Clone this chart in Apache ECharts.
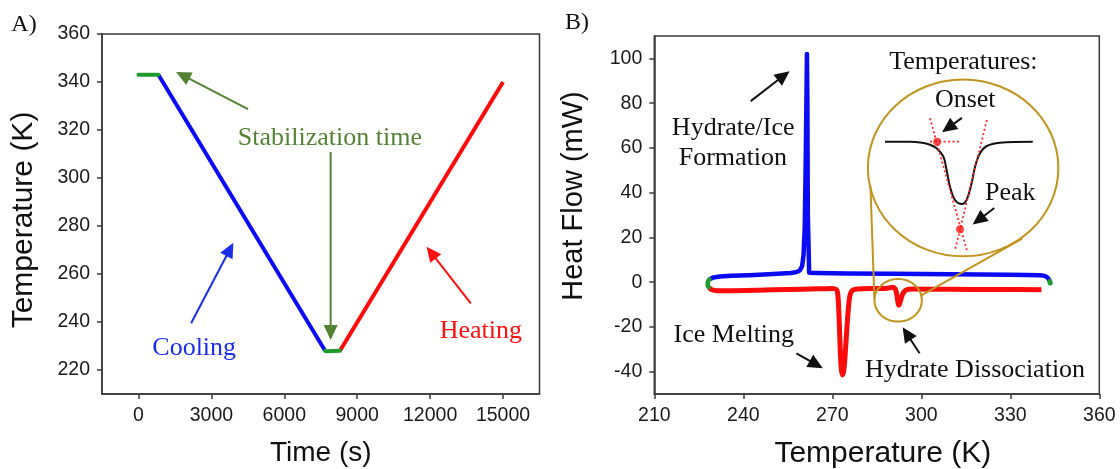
<!DOCTYPE html>
<html>
<head>
<meta charset="utf-8">
<script src="https://cdn.jsdelivr.net/npm/echarts@6/dist/echarts.min.js"></script>
<style>
  html, body { margin: 0; padding: 0; background: #ffffff; }
  #chart { width: 1120px; height: 469px; }
</style>
</head>
<body>
<div id="chart"></div>
<script>
// ---------- Panel A: programmed temperature profile ----------
const stabTopTime = [0, 820];
const stabTopTemp = [343, 343];
const coolTime = [820, 7680];
const coolTemp = [343, 228];
const stabLowTime = [7680, 7760, 8290];
const stabLowTemp = [228, 227.8, 228];
const heatTime = [8290, 15000];
const heatTemp = [228, 340];
const timeTicks = [0, 3000, 6000, 9000, 12000, 15000];
const tempTicksA = [220, 240, 260, 280, 300, 320, 340, 360];

// ---------- Panel B: DSC heat flow vs temperature ----------
const coolCurveT = [343.3, 343.0, 342.4, 341.5, 340, 330, 310, 290, 275, 265, 262.2, 261.75, 261.6, 261.45, 261.25, 261.0, 260.7, 260.3, 259.8, 259.0, 258, 256, 250, 242, 236, 232, 230, 229.2, 228.6];
const coolCurveHF = [0.3, 1.2, 2.2, 2.8, 3.1, 3.3, 3.5, 3.7, 3.9, 4.1, 4.2, 30, 80, 102, 78, 50, 24, 12, 7, 5.2, 4.5, 4.1, 3.6, 3.1, 2.8, 2.5, 2.1, 1.7, 1.2];
const heatCurveT = [228.4, 228.9, 229.6, 231, 236, 245, 255, 265, 270, 271.3, 271.8, 272.1, 272.4, 272.7, 273.0, 273.4, 273.8, 274.2, 274.6, 275.0, 275.4, 275.8, 276.3, 277, 278.5, 283, 288, 290.5, 291.3, 291.8, 292.2, 292.5, 292.9, 293.5, 294.2, 295.2, 297, 310, 325, 340.5];
const heatCurveHF = [-2.2, -3.0, -3.5, -3.8, -3.8, -3.6, -3.3, -3.0, -2.8, -3.2, -5, -10, -20, -31, -38.5, -41.5, -40, -35, -27, -19, -12, -7, -4.5, -3.5, -3.1, -2.9, -2.8, -2.3, -3.2, -6, -9.5, -10.3, -8.8, -6, -4.3, -3.4, -3.1, -3.2, -3.3, -3.4];
const isoLowT = [228.6, 228.15, 228.0, 228.1, 228.4];
const isoLowHF = [1.2, 0.4, -0.8, -1.8, -2.2];
const isoHighT = [343.3, 343.45, 343.45];
const isoHighHF = [0.3, 0.0, -0.4];
const tempTicksB = [210, 240, 270, 300, 330, 360];
const hfTicks = [-40, -20, 0, 20, 40, 60, 80, 100];

// Schematic peak inside the magnifier (arbitrary units)
const sketchX = [7.5, 20, 26, 30, 33.3, 36.7, 38.3, 40, 42.5, 45.9, 48.3, 50.8, 52.5, 55, 58.4, 65, 81.4];
const sketchY = [0, 0, -0.1, -0.3, -0.64, -1.46, -2.76, -4.38, -5.68, -6.07, -5.68, -4.05, -2.43, -1.13, -0.42, -0.1, 0];
const tangentLeft = [[30, 2.28], [48.4, -10.55]];
const tangentRight = [[58.4, 2.11], [42.5, -10.55]];
const baselineExt = [[30, 0], [45, 0]];
const onsetPoint = [33.6, 0];
const peakPoint = [45, -8.53];

// Annotations, placed in each panel's data units
const notesA = [
  { text: 'Stabilization time', at: [7878, 316.7], color: '#548235' },
  { text: 'Cooling', at: [2293, 229.0], color: '#1a2ee8' },
  { text: 'Heating', at: [14084, 236.2], color: '#ff1010' }
];
const arrowsA = [
  { from: [4508, 328.7], to: [1549, 344.2], color: '#548235' },
  { from: [7907, 310.8], to: [7907, 232.5], color: '#548235' },
  { from: [2166, 239.5], to: [3904, 273.0], color: '#1a2ee8' },
  { from: [13673, 247.8], to: [11853, 271.4], color: '#ff1010' }
];
const notesB = [
  { text: 'Hydrate/Ice', at: [236.6, 69.0] },
  { text: 'Formation', at: [236.5, 55.5] },
  { text: 'Ice Melting', at: [236.8, -23.6] },
  { text: 'Hydrate Dissociation', at: [318.1, -39.3] },
  { text: 'Temperatures:', at: [314.2, 98.1] },
  { text: 'Onset', at: [314.8, 81.2] },
  { text: 'Peak', at: [330.0, 39.9] }
];
const arrowsB = [
  { from: [242.5, 80.9], to: [255.6, 94.3] },
  { from: [257.9, -31.8], to: [266.8, -38.5] },
  { from: [299.4, -31.8], to: [293.7, -20.2] },
  { from: [313.7, 73.4], to: [307.0, 67.0] },
  { from: [324.6, 33.1], to: [317.3, 25.7] }
];
const lensBig = { center: [314.1, 51.05], radius: [32.1, 39.5] };
const lensSmall = { center: [292.2, -8.15], radius: [8.0, 9.5] };
const lensLinks = [
  [[282.85, 43.1], [284.2, -7.9]],
  [[334.0, 19.4], [299.7, -6.1]]
];

const zip = (a, b) => a.map((v, i) => [v, b[i]]);

const AXIS = '#3a3a3a';
const SANS = '"Liberation Sans", Arial, sans-serif';
const SERIF = '"Liberation Serif", "Times New Roman", serif';
const GREEN = '#1f9a2c';
const BLUE = '#0a0af5';
const RED = '#ff0a0a';
const GOLD = '#c09420';

const plainNumber = v => String(v);

function tickLabels(values) {
  return { fontFamily: SANS, fontSize: 19.5, color: '#1a1a1a', margin: 12, customValues: values, formatter: plainNumber };
}
function tickMarks(values) {
  return { show: true, inside: false, length: 5, lineStyle: { color: AXIS, width: 1.5 }, customValues: values };
}

function valueAxis(extra) {
  return Object.assign({
    type: 'value',
    nameLocation: 'middle',
    nameMoveOverlap: false,
    nameTextStyle: { fontFamily: SANS, color: '#111', fontSize: 28 },
    axisLine: { show: true, onZero: false, lineStyle: { color: AXIS, width: 1.5 } },
    splitLine: { show: false }
  }, extra);
}

const chart = echarts.init(document.getElementById('chart'), null, { renderer: 'canvas' });

const option = {
  animation: false,
  backgroundColor: '#ffffff',
  grid: [
    { left: 102, top: 34, width: 437.5, height: 360, show: true, borderColor: AXIS, borderWidth: 1.5, backgroundColor: 'transparent', outerBoundsMode: 'none' },
    { left: 654.3, top: 36, width: 445, height: 358, show: true, borderColor: AXIS, borderWidth: 1.5, backgroundColor: 'transparent', outerBoundsMode: 'none' },
    { left: 870, top: 116, width: 200, height: 138.7, show: false, outerBoundsMode: 'none' }
  ],
  xAxis: [
    valueAxis({
      gridIndex: 0, min: -1500, max: 16500,
      name: 'Time (s)', nameGap: 45,
      axisLabel: tickLabels(timeTicks),
      axisTick: tickMarks(timeTicks)
    }),
    valueAxis({
      gridIndex: 1, min: 210, max: 360, interval: 30,
      name: 'Temperature (K)', nameGap: 45,
      nameTextStyle: { fontFamily: SANS, color: '#111', fontSize: 30, padding: [0, 0, 0, 12] },
      axisLabel: tickLabels(tempTicksB),
      axisTick: tickMarks(tempTicksB)
    }),
    { type: 'value', gridIndex: 2, min: 0, max: 100, show: false }
  ],
  yAxis: [
    valueAxis({
      gridIndex: 0, min: 210, max: 360,
      name: 'Temperature (K)', nameGap: 63,
      nameTextStyle: { fontFamily: SANS, color: '#111', fontSize: 30, padding: [0, 12, 0, 0] },
      axisLabel: tickLabels(tempTicksA),
      axisTick: tickMarks(tempTicksA)
    }),
    valueAxis({
      gridIndex: 1, min: -50, max: 110,
      name: 'Heat Flow (mW)', nameGap: 66,
      nameTextStyle: { fontFamily: SANS, color: '#111', fontSize: 29, padding: [0, 0, 0, 38] },
      axisLabel: tickLabels(hfTicks),
      axisTick: tickMarks(hfTicks)
    }),
    { type: 'value', gridIndex: 2, min: -11, max: 2.5, show: false }
  ],
  series: [
    // Panel A
    { type: 'line', xAxisIndex: 0, yAxisIndex: 0, data: zip(coolTime, coolTemp), showSymbol: false, lineStyle: { color: BLUE, width: 4 }, z: 3 },
    { type: 'line', xAxisIndex: 0, yAxisIndex: 0, data: zip(heatTime, heatTemp), showSymbol: false, lineStyle: { color: RED, width: 4 }, z: 3 },
    { type: 'line', xAxisIndex: 0, yAxisIndex: 0, data: zip(stabTopTime, stabTopTemp), showSymbol: false, lineStyle: { color: GREEN, width: 4, cap: 'round' }, z: 4 },
    { type: 'line', xAxisIndex: 0, yAxisIndex: 0, data: zip(stabLowTime, stabLowTemp), showSymbol: false, smooth: 0.4, lineStyle: { color: GREEN, width: 4, cap: 'round' }, z: 4 },
    // Panel B
    { type: 'line', xAxisIndex: 1, yAxisIndex: 1, data: zip(coolCurveT, coolCurveHF), showSymbol: false, lineStyle: { color: BLUE, width: 4.5, join: 'round' }, z: 3 },
    { type: 'line', xAxisIndex: 1, yAxisIndex: 1, data: zip(heatCurveT, heatCurveHF), showSymbol: false, smooth: 0.2, lineStyle: { color: RED, width: 5, join: 'round' }, z: 3 },
    { type: 'line', xAxisIndex: 1, yAxisIndex: 1, data: zip(isoLowT, isoLowHF), showSymbol: false, smooth: 0.4, lineStyle: { color: GREEN, width: 4.5, cap: 'round' }, z: 4 },
    { type: 'line', xAxisIndex: 1, yAxisIndex: 1, data: zip(isoHighT, isoHighHF), showSymbol: false, lineStyle: { color: GREEN, width: 5, cap: 'round' }, z: 4 },
    // Magnifier sketch
    { type: 'line', xAxisIndex: 2, yAxisIndex: 2, data: zip(sketchX, sketchY), showSymbol: false, smooth: 0.35, lineStyle: { color: '#111', width: 2 }, z: 5 },
    { type: 'line', xAxisIndex: 2, yAxisIndex: 2, data: tangentLeft, showSymbol: false, lineStyle: { color: '#ff2a2a', width: 1.8, type: [2, 2.5] }, z: 6 },
    { type: 'line', xAxisIndex: 2, yAxisIndex: 2, data: tangentRight, showSymbol: false, lineStyle: { color: '#ff2a2a', width: 1.8, type: [2, 2.5] }, z: 6 },
    { type: 'line', xAxisIndex: 2, yAxisIndex: 2, data: baselineExt, showSymbol: false, lineStyle: { color: '#ff2a2a', width: 1.8, type: [2, 2.5] }, z: 6 },
    { type: 'scatter', xAxisIndex: 2, yAxisIndex: 2, data: [onsetPoint, peakPoint], symbol: 'circle', symbolSize: 8, itemStyle: { color: '#ff1a1a' }, z: 7 }
  ]
};

chart.setOption(option);

// ---------- annotation layer ----------
function toPx(grid, pt) { return chart.convertToPixel({ gridIndex: grid }, pt); }

function arrowEls(grid, from, to, color) {
  const a = toPx(grid, from), b = toPx(grid, to);
  const dx = b[0] - a[0], dy = b[1] - a[1];
  const len = Math.hypot(dx, dy), ux = dx / len, uy = dy / len;
  const hl = 15, hw = 7;
  const bx = b[0] - ux * hl, by = b[1] - uy * hl;
  return [
    { type: 'line', z: 100, shape: { x1: a[0], y1: a[1], x2: bx + ux * 2, y2: by + uy * 2 }, style: { stroke: color, lineWidth: 2 } },
    { type: 'polygon', z: 100, shape: { points: [[b[0], b[1]], [bx - uy * hw, by + ux * hw], [bx + uy * hw, by - ux * hw]] }, style: { fill: color } }
  ];
}

function textEl(grid, note, color) {
  const p = toPx(grid, note.at);
  return { type: 'text', z: 100, x: p[0], y: p[1], style: { text: note.text, fill: color, fontFamily: SERIF, fontSize: 26, align: 'center', verticalAlign: 'middle' } };
}

function ellipseEl(lens) {
  const c = toPx(1, lens.center);
  const e = toPx(1, [lens.center[0] + lens.radius[0], lens.center[1] + lens.radius[1]]);
  return { type: 'ellipse', z: 90, shape: { cx: c[0], cy: c[1], rx: Math.abs(e[0] - c[0]), ry: Math.abs(e[1] - c[1]) }, style: { fill: null, stroke: GOLD, lineWidth: 2 } };
}

const elements = [];
notesA.forEach(n => elements.push(textEl(0, n, n.color)));
arrowsA.forEach(a => elements.push(...arrowEls(0, a.from, a.to, a.color)));
notesB.forEach(n => elements.push(textEl(1, n, '#111')));
arrowsB.forEach(a => elements.push(...arrowEls(1, a.from, a.to, '#111')));
elements.push(ellipseEl(lensBig), ellipseEl(lensSmall));
lensLinks.forEach(l => {
  const a = toPx(1, l[0]), b = toPx(1, l[1]);
  elements.push({ type: 'line', z: 90, shape: { x1: a[0], y1: a[1], x2: b[0], y2: b[1] }, style: { stroke: GOLD, lineWidth: 2 } });
});
// panel letters
elements.push({ type: 'text', z: 100, x: 24, y: 25, style: { text: 'A)', fill: '#111', fontFamily: SERIF, fontSize: 24, align: 'center', verticalAlign: 'middle' } });
elements.push({ type: 'text', z: 100, x: 577, y: 23, style: { text: 'B)', fill: '#111', fontFamily: SERIF, fontSize: 24, align: 'center', verticalAlign: 'middle' } });

chart.setOption({ graphic: { elements: elements } });
</script>
</body>
</html>
